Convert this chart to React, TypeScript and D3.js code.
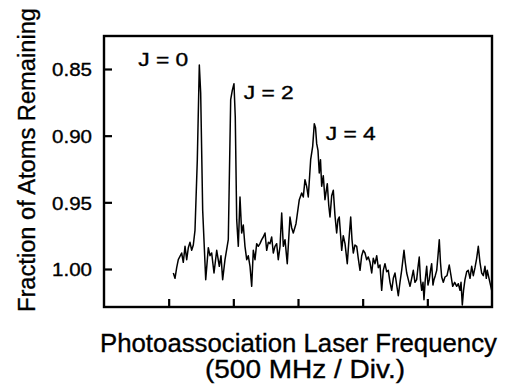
import React, { useEffect, useRef } from "react";
import * as d3 from "d3";

// Frequency in divisions (500 MHz / Div.)
const freq: number[] = [
  1.072, 1.098, 1.124, 1.149, 1.201, 1.226, 1.253, 1.279, 1.304, 1.33, 1.356, 1.381, 1.407, 1.443, 1.474,
  1.495, 1.526, 1.573, 1.613, 1.639, 1.665, 1.701, 1.743, 1.783, 1.809, 1.835, 1.871, 1.922, 1.959, 1.984,
  2.01, 2.03, 2.052, 2.077, 2.103, 2.129, 2.154, 2.18, 2.207, 2.231, 2.258, 2.284, 2.309, 2.335, 2.361,
  2.386, 2.412, 2.439, 2.463, 2.49, 2.516, 2.541, 2.567, 2.593, 2.618, 2.644, 2.67, 2.695, 2.722, 2.748,
  2.773, 2.799, 2.834, 2.876, 2.902, 2.927, 2.969, 3.02, 3.057, 3.082, 3.108, 3.134, 3.159, 3.196, 3.227,
  3.252, 3.271, 3.289, 3.309, 3.329, 3.348, 3.366, 3.391, 3.417, 3.453, 3.475, 3.495, 3.521, 3.546, 3.572,
  3.598, 3.618, 3.638, 3.676, 3.7, 3.727, 3.762, 3.788, 3.815, 3.835, 3.855, 3.881, 3.908, 3.932, 3.959,
  3.985, 4.01, 4.036, 4.062, 4.087, 4.113, 4.14, 4.164, 4.191, 4.217, 4.242, 4.268, 4.294, 4.319, 4.345,
  4.371, 4.396, 4.423, 4.449, 4.474, 4.5, 4.526, 4.551, 4.577, 4.603, 4.639, 4.659, 4.681, 4.706, 4.732,
  4.758, 4.783, 4.809, 4.835, 4.855, 4.875, 4.894, 4.913, 4.933, 4.948, 4.968, 4.99, 5.01, 5.03, 5.049,
  5.067, 5.087, 5.103, 5.123, 5.145, 5.165, 5.185, 5.203, 5.222, 5.247, 5.273, 5.304, 5.339, 5.366, 5.392,
  5.423, 5.454, 5.479, 5.505, 5.521, 5.541, 5.56, 5.582, 5.609, 5.633, 5.66, 5.686, 5.711, 5.737, 5.763,
  5.788, 5.814, 5.84, 5.866, 5.891, 5.912, 5.927, 5.958, 5.995,
];

// Fraction of atoms remaining
const fraction: number[] = [
  1.003, 1.007, 0.999, 0.993, 0.988, 0.995, 0.983, 0.993, 0.984, 0.98, 0.986, 0.982, 0.971, 0.918, 0.847,
  0.868, 0.956, 1.008, 0.984, 0.99, 0.988, 1.003, 0.986, 0.998, 0.99, 1.008, 0.993, 0.978, 0.873, 0.866,
  0.861, 0.886, 0.963, 0.983, 0.946, 0.973, 0.967, 0.983, 0.993, 0.99, 0.998, 1.013, 0.986, 0.993, 0.981,
  0.983, 0.981, 0.978, 0.976, 0.973, 0.986, 0.98, 0.981, 0.976, 0.988, 0.983, 0.981, 0.993, 0.983, 0.958,
  0.983, 0.978, 0.996, 0.961, 0.969, 0.973, 0.966, 0.948, 0.943, 0.946, 0.933, 0.938, 0.946, 0.918, 0.908,
  0.891, 0.894, 0.906, 0.911, 0.928, 0.918, 0.938, 0.93, 0.948, 0.936, 0.952, 0.961, 0.945, 0.941, 0.96,
  0.973, 0.963, 0.961, 0.986, 0.975, 0.981, 0.996, 0.978, 0.961, 0.978, 0.988, 0.982, 0.983, 0.992, 1.001,
  0.99, 0.986, 0.988, 0.993, 0.991, 0.995, 1.003, 0.992, 0.996, 0.99, 0.999, 0.997, 1.016, 1.001, 0.996,
  1.002, 1.001, 1.01, 1.016, 1.007, 1.003, 1.012, 1.02, 1.01, 1.001, 0.986, 0.995, 1.003, 1.008, 1.013,
  1.007, 1.001, 1.01, 1.008, 0.999, 0.991, 1.008, 1.016, 1.01, 1.023, 1.008, 0.998, 1.012, 1.008, 1.001,
  0.996, 1.012, 1.008, 1.005, 1.001, 0.99, 0.978, 0.995, 1.006, 1.01, 1.006, 1.005, 0.997, 1.005, 1.013,
  1.01, 1.013, 1.011, 1.016, 1.01, 1.027, 1.016, 1.008, 1.002, 1.001, 1.007, 0.998, 1.005, 0.999, 0.992,
  0.983, 0.995, 1.003, 1.005, 0.998, 1.007, 1.001, 1.008, 1.016,
];

const yTicks: number[] = [0.85, 0.9, 0.95, 1.0];
const xTicks: number[] = [1, 2, 3, 4, 5];

const peakLabels: string[] = ["J = 0", "J = 2", "J = 4"];
const peakFreq: number[] = [0.53, 2.16, 3.43];
const peakFrac: number[] = [0.8474, 0.8722, 0.9029];

const yTitle = "Fraction of Atoms Remaining";
const xTitle1 = "Photoassociation Laser Frequency";
const xTitle2 = "(500 MHz / Div.)";

const W = 506;
const H = 390;
const FONT = "'Liberation Sans', Arial, Helvetica, sans-serif";

export default function App() {
  const ref = useRef<SVGSVGElement | null>(null);

  useEffect(() => {
    const svg = d3.select(ref.current);
    svg.selectAll("*").remove();

    const x = d3.scaleLinear().domain([0, 6]).range([104, 492]);
    const y = d3.scaleLinear().domain([0.82525, 1.0285]).range([36, 307]);

    // data line
    const pts = freq.map((f, i) => [f, fraction[i]] as [number, number]);
    const line = d3
      .line<[number, number]>()
      .x((d) => x(d[0]))
      .y((d) => y(d[1]));
    svg
      .append("path")
      .attr("d", line(pts) as string)
      .attr("fill", "none")
      .attr("stroke", "#000")
      .attr("stroke-width", 1.5)
      .attr("stroke-linejoin", "round");

    const textStyle = (sel: any) =>
      sel
        .attr("font-family", FONT)
        .attr("fill", "#000")
        .attr("stroke", "#000")
        .attr("stroke-width", 0.35);

    // y axis (inward ticks)
    const yAxis = d3
      .axisLeft(y)
      .tickValues(yTicks)
      .tickSize(-8)
      .tickPadding(12)
      .tickFormat((d) => d3.format(".2f")(d as number));
    const gy = svg.append("g").attr("transform", `translate(${x(0)},0)`).call(yAxis);
    gy.select(".domain").remove();
    gy.selectAll(".tick line").attr("stroke", "#000").attr("stroke-width", 2.2);
    gy.selectAll(".tick text")
      .call(textStyle)
      .attr("font-size", 18.5)
      .attr("dy", "0.36em")
      .attr("textLength", 40)
      .attr("lengthAdjust", "spacingAndGlyphs");

    // x axis (inward ticks, no labels)
    const xAxis = d3
      .axisBottom(x)
      .tickValues(xTicks)
      .tickSize(-8)
      .tickFormat(() => "");
    const gx = svg.append("g").attr("transform", `translate(0,${y(1.0285)})`).call(xAxis);
    gx.select(".domain").remove();
    gx.selectAll(".tick line").attr("stroke", "#000").attr("stroke-width", 2.2);

    // frame
    svg
      .append("rect")
      .attr("x", x(0))
      .attr("y", y(0.82525))
      .attr("width", x(6) - x(0))
      .attr("height", y(1.0285) - y(0.82525))
      .attr("fill", "none")
      .attr("stroke", "#000")
      .attr("stroke-width", 2.4);

    // peak labels
    peakLabels.forEach((lab, i) => {
      svg
        .append("text")
        .call(textStyle)
        .attr("x", x(peakFreq[i]))
        .attr("y", y(peakFrac[i]))
        .attr("font-size", 18)
        .attr("textLength", 50)
        .attr("lengthAdjust", "spacingAndGlyphs")
        .text(lab);
    });

    // y title
    svg
      .append("text")
      .call(textStyle)
      .attr("transform", `translate(35,160) rotate(-90)`)
      .attr("text-anchor", "middle")
      .attr("font-size", 23.5)
      .attr("textLength", 304)
      .attr("lengthAdjust", "spacingAndGlyphs")
      .text(yTitle);

    // x title
    svg
      .append("text")
      .call(textStyle)
      .attr("x", 100)
      .attr("y", 352)
      .attr("font-size", 25.5)
      .attr("textLength", 397)
      .attr("lengthAdjust", "spacingAndGlyphs")
      .text(xTitle1);
    svg
      .append("text")
      .call(textStyle)
      .attr("x", 205)
      .attr("y", 378)
      .attr("font-size", 25.5)
      .attr("textLength", 200)
      .attr("lengthAdjust", "spacingAndGlyphs")
      .text(xTitle2);
  }, []);

  return (
    <svg
      ref={ref}
      width={W}
      height={H}
      viewBox={`0 0 ${W} ${H}`}
      style={{ position: "absolute", left: 0, top: 0, background: "#fff" }}
    />
  );
}
